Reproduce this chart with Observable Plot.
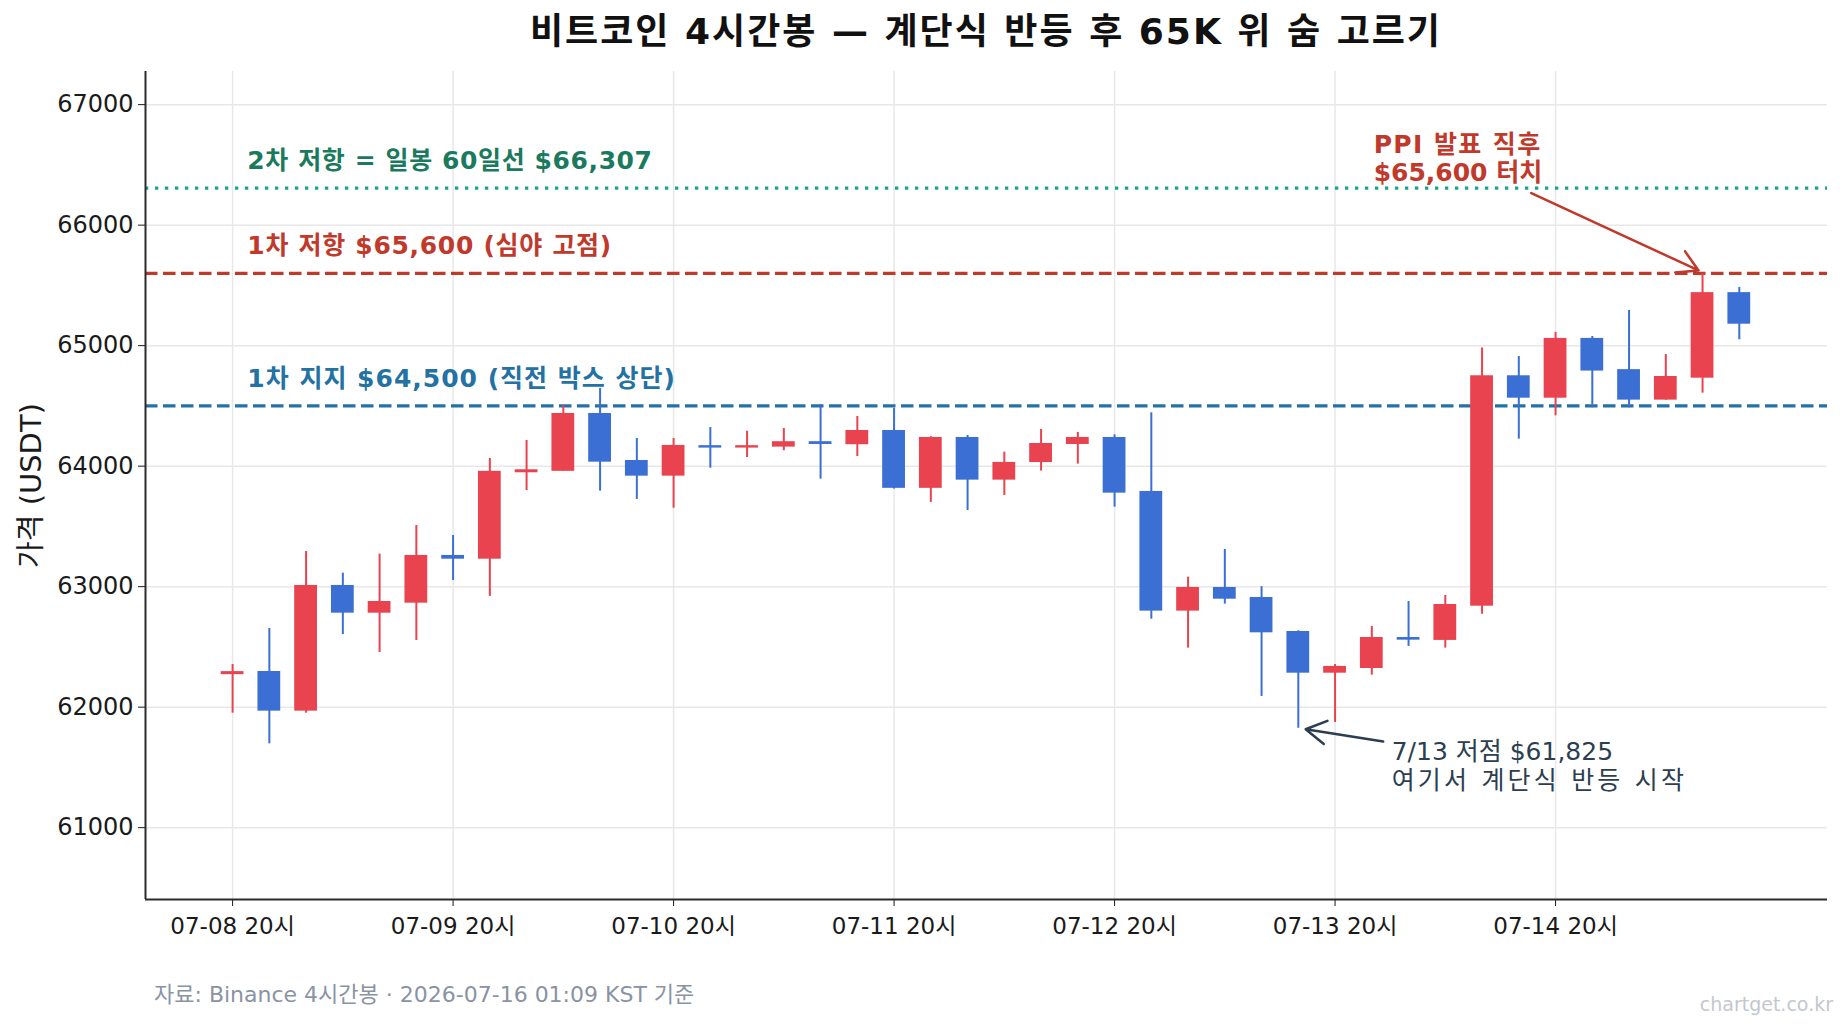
<!DOCTYPE html>
<html><head><meta charset="utf-8">
<script src="https://cdn.jsdelivr.net/npm/d3@7"></script>
<script src="https://cdn.jsdelivr.net/npm/@observablehq/plot@0.6"></script>
<style>
body{margin:0;background:#fff;font-family:"DejaVu Sans","Noto Sans CJK KR",sans-serif;width:1847px;height:1033px;position:relative;overflow:hidden}
#title{height:62px;line-height:64px;box-sizing:border-box;padding-left:145px;padding-right:20px;text-align:center;font-size:36px;font-weight:700;color:#111;letter-spacing:2px;white-space:nowrap}
#caption{position:absolute;left:154px;top:976px;font-size:22px;color:#8a93a3;white-space:nowrap}
#brand{position:absolute;right:14px;top:993px;font-size:19px;color:#c3c7ce}
svg{display:block}
</style></head>
<body>
<div id="title">비트코인 4시간봉 — 계단식 반등 후 65K 위 숨 고르기</div>
<div id="chart"></div>
<div id="caption">자료: Binance 4시간봉 · 2026-07-16 01:09 KST 기준</div>
<div id="brand">chartget.co.kr</div>
<script>
// 4-hour candles, first = 07-08 20:00
const opens  = [62270,62296,61967,63010,62780,62863,63259,63228,63945,63957,64437,64047,63917,64170,64150,64158,64203,64178,64296,63816,64238,63884,64030,64180,64238,63790,62797,62993,62910,62628,62282,62321,62578,62554,62838,64750,64564,65060,64801,64548,64730,65440];
const highs  = [62354,62653,63292,63112,63270,63508,63425,64064,64213,64502,64645,64230,64230,64321,64290,64313,64510,64412,64479,64245,64255,64116,64305,64280,64260,64443,63079,63309,63000,62634,62354,62670,62877,62927,64981,64910,65110,65076,65292,64927,65600,65483];
const lows   = [61950,61696,61950,62603,62454,62553,63051,62919,63798,63957,63793,63724,63651,63983,64072,64128,63892,64080,63810,63699,63632,63757,63959,64017,63660,62730,62490,62855,62089,61825,61873,62266,62504,62490,62772,64224,64418,64484,64484,64548,64606,65049];
const closes = [62295,61967,63010,62780,62877,63259,63228,63957,63970,64437,64033,63917,64172,64150,64170,64203,64180,64296,63816,64238,63884,64031,64188,64238,63776,62797,62993,62896,62617,62282,62338,62578,62556,62852,64750,64564,65060,64789,64548,64744,65440,65178];

const xTickIdx = [0,6,12,18,24,30,36];
const xTickLabels = ["07-08 20시","07-09 20시","07-10 20시","07-11 20시","07-12 20시","07-13 20시","07-14 20시"];
const yTicks = [61000,62000,63000,64000,65000,66000,67000];

const levelValues = [66307, 65600, 64500];
const levelLabels = ["2차 저항 = 일봉 60일선 $66,307","1차 저항 $65,600 (심야 고점)","1차 지지 $64,500 (직전 박스 상단)"];
const levelLineColors = ["#17a589","#c0392b","#2471a3"];
const levelTextColors = ["#1b7a5e","#c0392b","#2471a3"];
const levelDash = ["3.3,6.7","12.5,5.5","12.5,5.5"];

const xDomain = [-2.37, 43.4];
const yDomain = [60404, 67275];

const UP = "#e8434f", DOWN = "#3b6fd4";
const candles = opens.map((o,i)=>({i, open:o, high:highs[i], low:lows[i], close:closes[i], color: closes[i] >= o ? UP : DOWN}));
const levels = levelValues.map((v,k)=>({v, label:levelLabels[k], line:levelLineColors[k], text:levelTextColors[k], dash:levelDash[k]}));

const annPPI = {text:"PPI 발표 직후\n$65,600 터치", x:31.05, y:66558, ax1:35.34, ay1:66266, ax2:39.89, ay2:65624};
const annLow = {text:"7/13 저점 $61,825\n여기서 계단식 반등 시작", x:31.54, y:61520, ax1:31.31, ay1:61715, ax2:29.2, ay2:61817};

const font = '"DejaVu Sans","Noto Sans CJK KR",sans-serif';
const chart = Plot.plot({
  width:1847, height:880,
  marginLeft:145, marginRight:20, marginTop:9, marginBottom:43,
  x:{type:"linear", domain:xDomain},
  y:{type:"linear", domain:yDomain},
  style:{fontFamily:font, fontSize:"23px", color:"#1a1a1a", background:"#fff"},
  marks:[
    Plot.gridY(yTicks, {stroke:"#e8e8e8", strokeOpacity:1, strokeWidth:1.5}),
    Plot.gridX(xTickIdx, {stroke:"#e8e8e8", strokeOpacity:1, strokeWidth:1.5}),
    ...levels.map(l => Plot.ruleY([l.v], {stroke:l.line, strokeWidth:3.3, strokeDasharray:l.dash})),
    Plot.ruleX(candles, {x:"i", y1:"low", y2:"high", stroke:d=>d.color, strokeWidth:2}),
    Plot.rect(candles, {x1:d=>d.i-0.31, x2:d=>d.i+0.31, y1:"open", y2:"close", fill:d=>d.color}),
    Plot.text(levels, {x:()=>0.4, y:"v", text:"label", fill:d=>d.text, textAnchor:"start", fontWeight:700, fontSize:25, dy:-27}),
    Plot.text([annPPI], {x:"x", y:"y", text:"text", fill:"#c0392b", textAnchor:"start", lineAnchor:"middle", fontWeight:700, fontSize:25, lineHeight:1.14}),
    Plot.arrow([annPPI], {x1:"ax1", y1:"ay1", x2:"ax2", y2:"ay2", stroke:"#c0392b", strokeWidth:2.5, headLength:14}),
    Plot.text([annLow], {x:"x", y:"y", text:"text", fill:"#2c3e50", textAnchor:"start", lineAnchor:"middle", fontSize:25, lineHeight:1.16}),
    Plot.arrow([annLow], {x1:"ax1", y1:"ay1", x2:"ax2", y2:"ay2", stroke:"#2c3e50", strokeWidth:2.5, headLength:14}),
    Plot.axisY(yTicks, {tickFormat:d=>String(d), tickSize:7, tickPadding:5, label:null, fontSize:24}),
    Plot.axisX(xTickIdx, {tickFormat:(d)=>xTickLabels[xTickIdx.indexOf(d)], tickSize:7, tickPadding:11, label:null, fontSize:23}),
    Plot.ruleX([xDomain[0]], {stroke:"#2b2b2b", strokeWidth:2}),
    Plot.ruleY([yDomain[0]], {stroke:"#2b2b2b", strokeWidth:2}),
    Plot.text(["가격 (USDT)"], {frameAnchor:"left", textAnchor:"middle", rotate:-90, dx:-114, fontSize:29, fill:"#1a1a1a"})
  ]
});
// widen Korean-heavy labels to match the reference typeface metrics
const spacing = {
  "여기서 계단식 반등 시작":"3.2px",
  "PPI 발표 직후":"1.4px",
  "2차 저항 = 일봉 60일선 $66,307":"0.6px",
  "1차 저항 $65,600 (심야 고점)":"0.7px",
  "1차 지지 $64,500 (직전 박스 상단)":"1px"
};
d3.select(chart).selectAll("text, tspan").each(function(){
  const s = spacing[this.textContent];
  if (s && !(this.tagName === "text" && this.querySelector("tspan"))) this.style.letterSpacing = s;
});
document.getElementById("chart").appendChild(chart);
</script>
</body></html>
